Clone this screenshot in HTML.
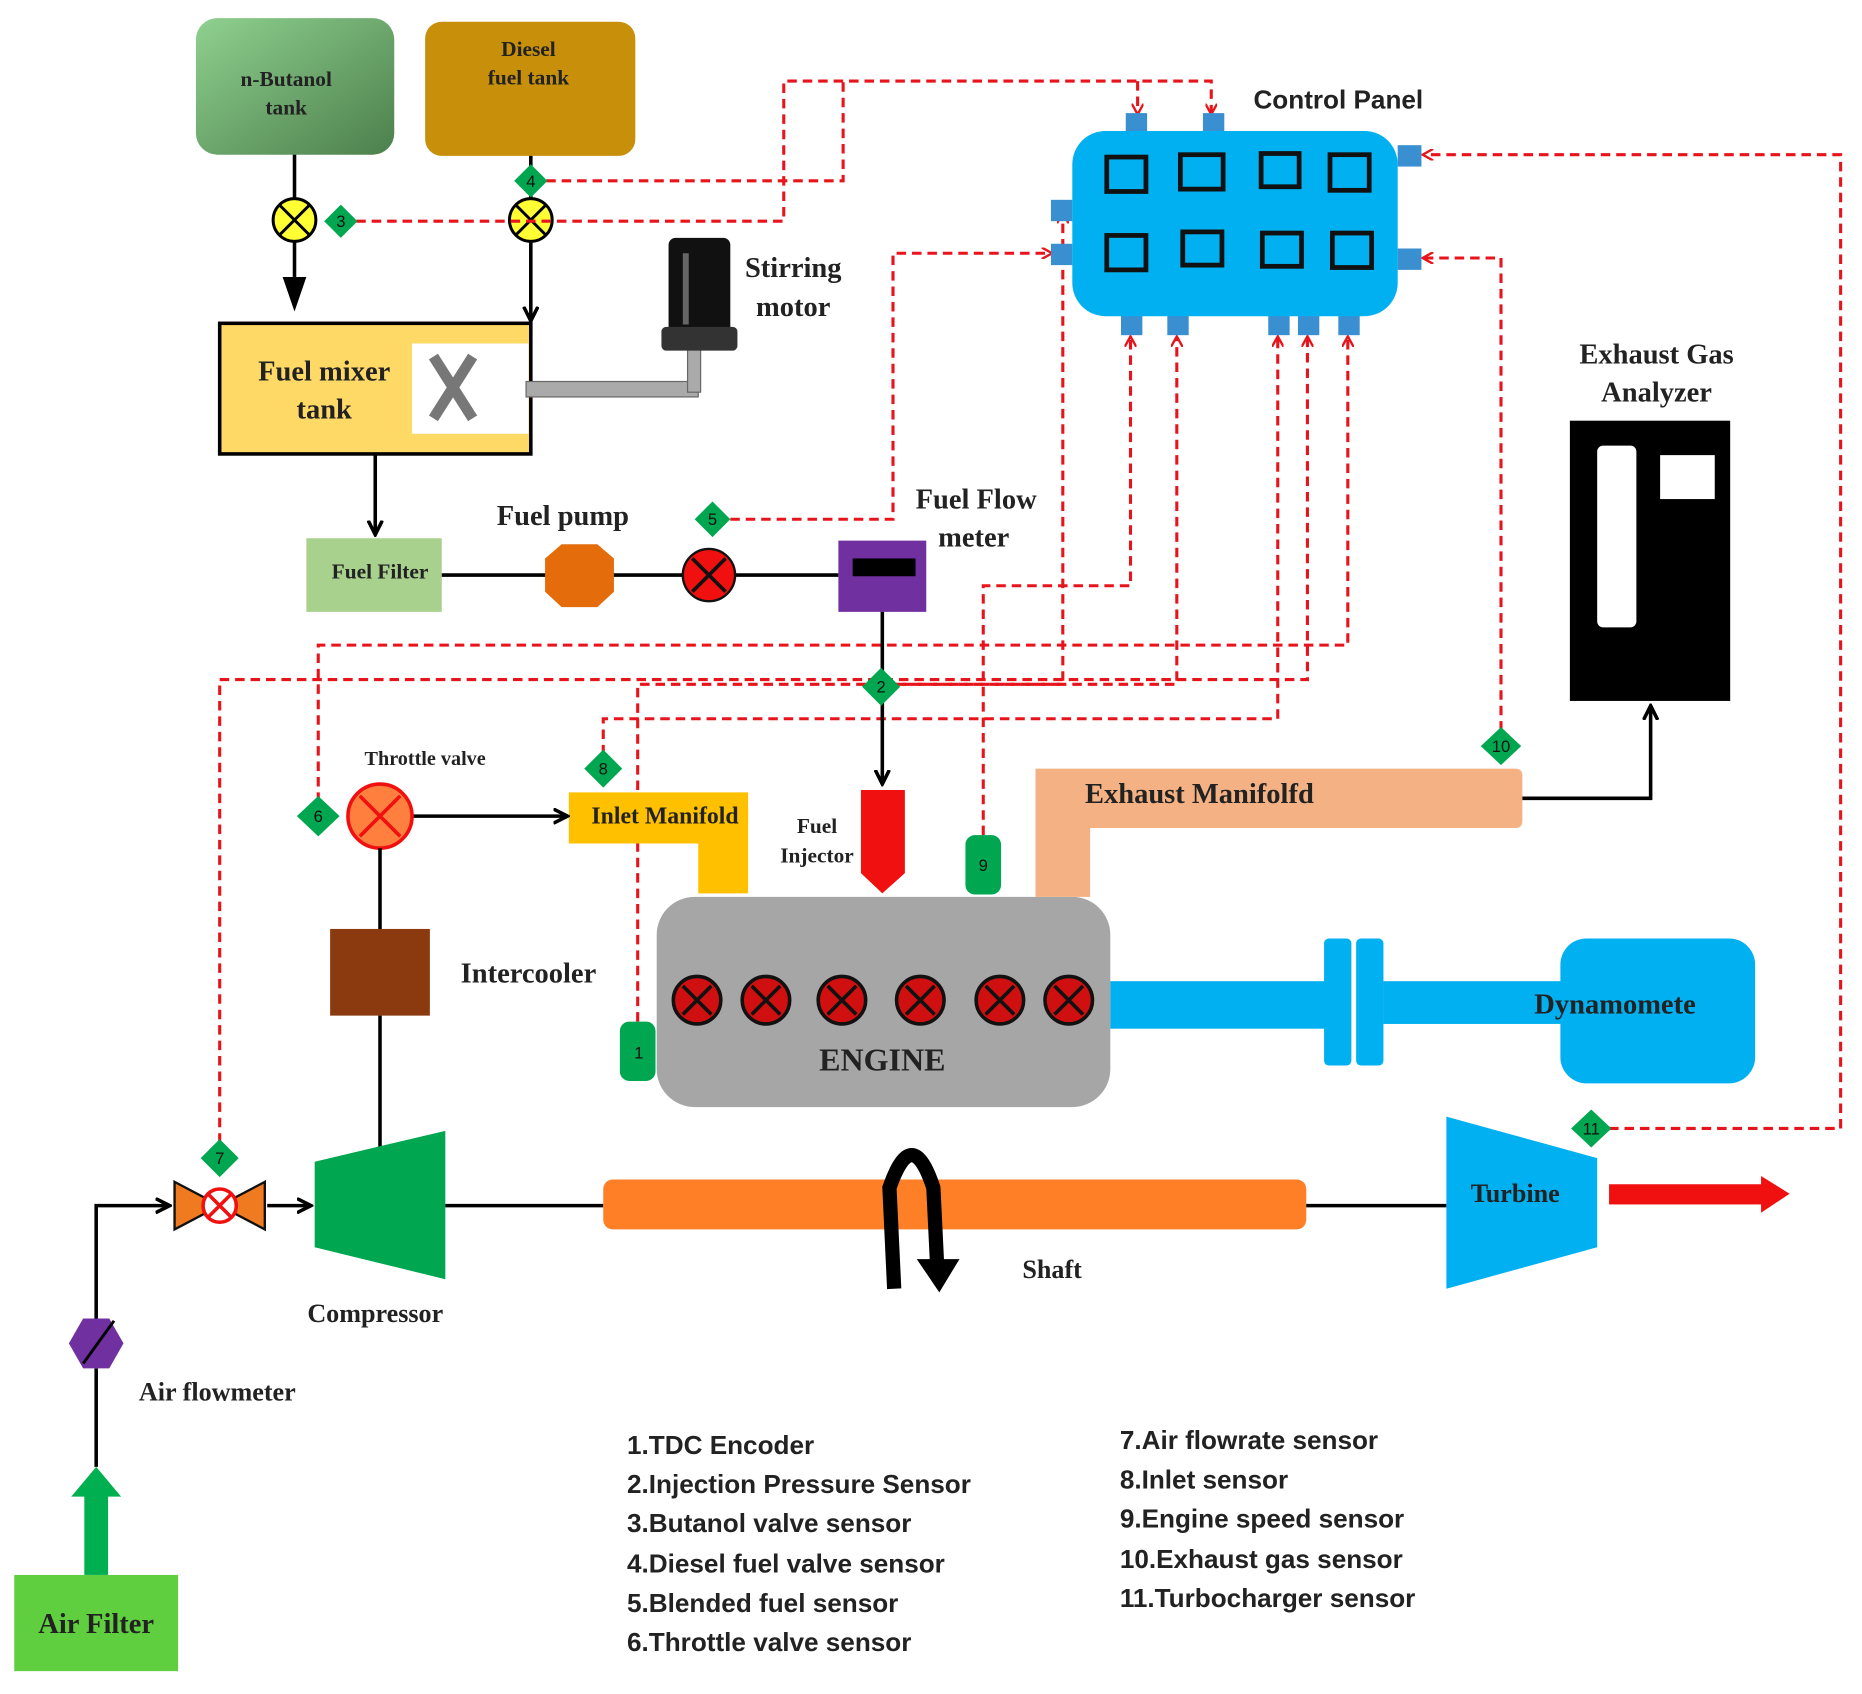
<!DOCTYPE html>
<html><head><meta charset="utf-8"><style>
html,body{margin:0;padding:0;background:#fff}
svg{display:block}
.s{font-family:"Liberation Serif",serif;font-weight:bold;fill:#222}
.l{font-family:"Liberation Sans Narrow","Liberation Sans",sans-serif;font-size:22px;font-weight:bold;fill:#222}
.d{fill:none;stroke:#e8141b;stroke-width:2.6;stroke-dasharray:8,5}
.k{fill:none;stroke:#000;stroke-width:3}
.n{font-family:"Liberation Sans",sans-serif;font-size:14px;fill:#111;text-anchor:middle}
</style></head><body>
<svg width="1862" height="1694" viewBox="0 0 1568 1426" xmlns="http://www.w3.org/2000/svg">
<defs>
<marker id="ra" markerWidth="10" markerHeight="10" refX="8" refY="5" orient="auto" markerUnits="userSpaceOnUse"><path d="M0,0 L9,5 L0,10" fill="none" stroke="#e8141b" stroke-width="2"/></marker>
<marker id="ka" markerWidth="14" markerHeight="14" refX="12" refY="7" orient="auto" markerUnits="userSpaceOnUse"><path d="M0,1 L12,7 L0,13" fill="none" stroke="#000" stroke-width="3"/></marker>
<linearGradient id="gb" x1="0" y1="0" x2="1" y2="1"><stop offset="0" stop-color="#8fd08f"/><stop offset="1" stop-color="#4c7f4c"/></linearGradient>
</defs>

<rect x="165" y="15" width="167" height="115" rx="18" fill="url(#gb)"/>
<text class="s" x="241" y="72" font-size="18" text-anchor="middle">n-Butanol</text>
<text class="s" x="241" y="96" font-size="18" text-anchor="middle">tank</text>
<rect x="358" y="18" width="177" height="113" rx="14" fill="#c8900a"/>
<text class="s" x="445" y="47" font-size="18" text-anchor="middle">Diesel</text>
<text class="s" x="445" y="71" font-size="18" text-anchor="middle">fuel tank</text>

<line class="k" x1="248" y1="130" x2="248" y2="167"/>
<line class="k" x1="447" y1="131" x2="447" y2="167"/>
<line x1="248" y1="204" x2="248" y2="255" stroke="#000" stroke-width="3"/>
<path d="M238,233 L258,233 L248,262 Z" fill="#000"/>
<line class="k" x1="447" y1="204" x2="447" y2="270" marker-end="url(#ka)"/>
<g stroke="#000" stroke-width="2.5">
<circle cx="248" cy="185" r="18" fill="#ffff33"/><path d="M236,173 L260,197 M260,173 L236,197"/>
<circle cx="447" cy="185" r="18" fill="#ffff33"/><path d="M435,173 L459,197 M459,173 L435,197"/>
</g>

<path class="d" d="M300,186 H660 V68 H1020 V95" marker-end="url(#ra)"/>
<path class="d" d="M958,68 V95" marker-end="url(#ra)"/>
<path class="d" d="M460,152 H710 V68"/>
<path class="d" d="M615,437 H752 V213 H885" marker-end="url(#ra)"/>
<path class="d" d="M828,703 V493 H952 V284" marker-end="url(#ra)"/>
<path class="d" d="M537,860 V576 H991 V284" marker-end="url(#ra)"/>
<path class="d" d="M742,576 H895 V180" marker-end="url(#ra)"/>
<path class="d" d="M268,675 V543 H1135 V284" marker-end="url(#ra)"/>
<path class="d" d="M185,962 V572 H1101 V284" marker-end="url(#ra)"/>
<path class="d" d="M508,635 V605 H1076 V284" marker-end="url(#ra)"/>
<path class="d" d="M1264,615 V217 H1199" marker-end="url(#ra)"/>
<path class="d" d="M1355,950 H1550 V130 H1199" marker-end="url(#ra)"/>

<g fill="#3a8fd0">
<rect x="948" y="95" width="18" height="16"/><rect x="1013" y="95" width="18" height="16"/>
<rect x="885" y="168" width="18" height="18"/><rect x="885" y="205" width="18" height="18"/>
<rect x="1177" y="122" width="20" height="18"/><rect x="1177" y="209" width="20" height="18"/>
<rect x="944" y="265" width="18" height="17"/><rect x="983" y="265" width="18" height="17"/><rect x="1068" y="265" width="18" height="17"/><rect x="1093" y="265" width="18" height="17"/><rect x="1127" y="265" width="18" height="17"/>
</g>
<rect x="903" y="110" width="274" height="156" rx="28" fill="#00b0f0"/>
<g fill="none" stroke="#111" stroke-width="4">
<rect x="932" y="132" width="33" height="29"/><rect x="994" y="130" width="36" height="29"/><rect x="1062" y="129" width="32" height="28"/><rect x="1120" y="130" width="33" height="30"/>
<rect x="932" y="198" width="33" height="29"/><rect x="996" y="195" width="33" height="28"/><rect x="1063" y="196" width="33" height="28"/><rect x="1122" y="196" width="33" height="29"/>
</g>
<text x="1127" y="91" font-family="Liberation Sans,sans-serif" font-weight="bold" font-size="22" fill="#222" text-anchor="middle">Control Panel</text>

<rect x="185" y="272" width="262" height="110" fill="#ffd966" stroke="#000" stroke-width="3"/>
<rect x="347" y="289" width="98" height="76" fill="#fff"/>
<path d="M365,300 L398,352 M398,300 L365,352" stroke="#777" stroke-width="9"/>
<rect x="443" y="321" width="145" height="13" fill="#aaa" stroke="#666"/>
<rect x="579" y="290" width="11" height="40" fill="#aaa" stroke="#666"/>
<rect x="563" y="200" width="52" height="82" rx="6" fill="#111"/>
<rect x="557" y="275" width="64" height="20" rx="4" fill="#333"/>
<rect x="575" y="213" width="5" height="60" fill="#666"/>
<text class="s" x="273" y="320" font-size="24" text-anchor="middle">Fuel mixer</text>
<text class="s" x="273" y="352" font-size="24" text-anchor="middle">tank</text>
<text class="s" x="668" y="233" font-size="24" text-anchor="middle">Stirring</text>
<text class="s" x="668" y="266" font-size="24" text-anchor="middle">motor</text>

<line class="k" x1="316" y1="382" x2="316" y2="450" marker-end="url(#ka)"/>
<rect x="258" y="453" width="114" height="62" fill="#a9d18e"/>
<text class="s" x="320" y="487" font-size="18" text-anchor="middle">Fuel Filter</text>
<line class="k" x1="372" y1="484" x2="706" y2="484"/>
<path d="M473,458 H503 L517,470 V498 L503,511 H473 L459,498 V470 Z" fill="#e46c0a"/>
<text class="s" x="474" y="442" font-size="24" text-anchor="middle">Fuel pump</text>
<circle cx="597" cy="484" r="22" fill="#f01010" stroke="#111" stroke-width="2"/>
<path d="M583,470 L611,498 M611,470 L583,498" stroke="#111" stroke-width="3"/>
<rect x="706" y="455" width="74" height="60" fill="#7030a0"/>
<rect x="718" y="470" width="53" height="15" fill="#000"/>
<text class="s" x="822" y="428" font-size="24" text-anchor="middle">Fuel Flow</text>
<text class="s" x="820" y="460" font-size="24" text-anchor="middle">meter</text>
<line class="k" x1="743" y1="515" x2="743" y2="660" marker-end="url(#ka)"/>

<path d="M725,665 H762 V735 L743,752 L725,735 Z" fill="#f01010"/>
<text class="s" x="688" y="701" font-size="18" text-anchor="middle">Fuel</text>
<text class="s" x="688" y="726" font-size="18" text-anchor="middle">Injector</text>
<path d="M479,667 H630 V752 H588 V710 H479 Z" fill="#ffc000"/>
<text class="s" x="560" y="693" font-size="20" text-anchor="middle">Inlet Manifold</text>

<line class="k" x1="348" y1="687" x2="478" y2="687" marker-end="url(#ka)"/>
<circle cx="320" cy="687" r="27" fill="#ff7f3f" stroke="#f01010" stroke-width="3"/>
<path d="M303,670 L337,704 M337,670 L303,704" stroke="#f01010" stroke-width="3"/>
<text class="s" x="358" y="644" font-size="17" text-anchor="middle">Throttle valve</text>
<line class="k" x1="320" y1="714" x2="320" y2="782"/>
<rect x="278" y="782" width="84" height="73" fill="#8b3a0f"/>
<text class="s" x="445" y="827" font-size="24" text-anchor="middle">Intercooler</text>
<line class="k" x1="320" y1="855" x2="320" y2="966"/>

<path d="M265,978 L375,952 V1077 L265,1050 Z" fill="#00a650"/>
<text class="s" x="316" y="1113" font-size="22" text-anchor="middle">Compressor</text>
<line class="k" x1="375" y1="1015" x2="508" y2="1015"/>
<rect x="508" y="993" width="592" height="42" rx="8" fill="#ff7f27"/>
<path d="M753,1085 L749,1000 Q768,945 786,1000 L789,1062" fill="none" stroke="#000" stroke-width="12"/>
<path d="M772,1060 H808 L791,1088 Z" fill="#000"/>
<text class="s" x="886" y="1076" font-size="22" text-anchor="middle">Shaft</text>
<line class="k" x1="1100" y1="1015" x2="1218" y2="1015"/>
<path d="M1218,940 L1345,975 V1050 L1218,1085 Z" fill="#00b0f0"/>
<text class="s" x="1276" y="1012" font-size="22" text-anchor="middle">Turbine</text>
<rect x="1355" y="997" width="130" height="17" fill="#f01010"/>
<path d="M1483,990 L1507,1005 L1483,1021 Z" fill="#f01010"/>

<rect x="553" y="755" width="382" height="177" rx="32" fill="#a6a6a6"/>
<g stroke="#111" stroke-width="3">
<circle cx="587" cy="842" r="20" fill="#d01010"/><circle cx="645" cy="842" r="20" fill="#d01010"/><circle cx="709" cy="842" r="20" fill="#d01010"/><circle cx="775" cy="842" r="20" fill="#d01010"/><circle cx="842" cy="842" r="20" fill="#d01010"/><circle cx="900" cy="842" r="20" fill="#d01010"/>
<path d="M575,830 L599,854 M599,830 L575,854 M633,830 L657,854 M657,830 L633,854 M697,830 L721,854 M721,830 L697,854 M763,830 L787,854 M787,830 L763,854 M830,830 L854,854 M854,830 L830,854 M888,830 L912,854 M912,830 L888,854"/>
</g>
<text class="s" x="743" y="901" font-size="27" text-anchor="middle">ENGINE</text>
<rect x="522" y="860" width="30" height="50" rx="8" fill="#00a650"/><text class="n" x="538" y="891">1</text>
<rect x="813" y="703" width="30" height="50" rx="8" fill="#00a650"/><text class="n" x="828" y="733">9</text>

<path d="M872,647 H1276 Q1282,647 1282,653 V691 Q1282,697 1276,697 H918 V755 H872 Z" fill="#f4b183"/>
<text class="s" x="1010" y="676" font-size="24" text-anchor="middle">Exhaust Manifolfd</text>
<path class="k" d="M1282,672 H1390 V594" marker-end="url(#ka)"/>
<rect x="1322" y="354" width="135" height="236" fill="#000"/>
<rect x="1345" y="375" width="33" height="153" rx="5" fill="#fff"/>
<rect x="1398" y="383" width="46" height="37" fill="#fff"/>
<text class="s" x="1395" y="306" font-size="24" text-anchor="middle">Exhaust Gas</text>
<text class="s" x="1395" y="338" font-size="24" text-anchor="middle">Analyzer</text>

<rect x="935" y="826" width="182" height="40" fill="#00b0f0"/>
<rect x="1115" y="790" width="23" height="107" rx="4" fill="#00b0f0"/>
<rect x="1142" y="790" width="23" height="107" rx="4" fill="#00b0f0"/>
<rect x="1165" y="826" width="155" height="36" fill="#00b0f0"/>
<rect x="1314" y="790" width="164" height="122" rx="22" fill="#00b0f0"/>
<text class="s" x="1360" y="853" font-size="24" text-anchor="middle">Dynamomete</text>

<rect x="12" y="1326" width="138" height="81" fill="#5fcf3f"/>
<text class="s" x="81" y="1375" font-size="24" text-anchor="middle">Air Filter</text>
<rect x="71" y="1258" width="20" height="68" fill="#00b050"/>
<path d="M60,1260 L81,1235 L102,1260 Z" fill="#00b050"/>
<line class="k" x1="81" y1="1235" x2="81" y2="1152"/>
<path class="k" d="M81,1110 V1015 H143" marker-end="url(#ka)"/>
<path d="M70,1110 H92 L104,1131 L92,1152 H70 L58,1131 Z" fill="#7030a0"/>
<line x1="70" y1="1148" x2="96" y2="1112" stroke="#000" stroke-width="2.5"/>
<text class="s" x="183" y="1179" font-size="22" text-anchor="middle">Air flowmeter</text>
<path d="M147,995 L185,1015 L147,1035 Z M223,995 L185,1015 L223,1035 Z" fill="#f07a20" stroke="#111" stroke-width="2"/>
<circle cx="185" cy="1015" r="14" fill="#fff" stroke="#f01010" stroke-width="3"/>
<path d="M175,1005 L195,1025 M195,1005 L175,1025" stroke="#f01010" stroke-width="3"/>
<line class="k" x1="225" y1="1015" x2="262" y2="1015" marker-end="url(#ka)"/>

<g fill="#00a650">
<path d="M287,172 L301,186 L287,200 L273,186 Z"/>
<path d="M447,138 L461,152 L447,166 L433,152 Z"/>
<path d="M600,422 L615,437 L600,452 L585,437 Z"/>
<path d="M742,562 L758,578 L742,594 L726,578 Z"/>
<path d="M508,631 L524,647 L508,663 L492,647 Z"/>
<path d="M268,670 L286,687 L268,704 L250,687 Z"/>
<path d="M185,959 L201,975 L185,991 L169,975 Z"/>
<path d="M1264,612 L1281,628 L1264,644 L1247,628 Z"/>
<path d="M1340,934 L1357,950 L1340,966 L1323,950 Z"/>
</g>
<text class="n" x="287" y="191">3</text><text class="n" x="447" y="157">4</text>
<text class="n" x="600" y="442">5</text><text class="n" x="742" y="583">2</text>
<text class="n" x="508" y="652">8</text><text class="n" x="268" y="692">6</text>
<text class="n" x="185" y="980">7</text><text class="n" x="1264" y="633">10</text>
<text class="n" x="1340" y="955">11</text>

<text class="l" x="528" y="1224">1.TDC Encoder</text>
<text class="l" x="528" y="1257">2.Injection  Pressure Sensor</text>
<text class="l" x="528" y="1290">3.Butanol valve sensor</text>
<text class="l" x="528" y="1324">4.Diesel fuel valve sensor</text>
<text class="l" x="528" y="1357">5.Blended fuel sensor</text>
<text class="l" x="528" y="1390">6.Throttle valve sensor</text>
<text class="l" x="943" y="1220">7.Air flowrate sensor</text>
<text class="l" x="943" y="1253">8.Inlet sensor</text>
<text class="l" x="943" y="1286">9.Engine speed sensor</text>
<text class="l" x="943" y="1320">10.Exhaust gas sensor</text>
<text class="l" x="943" y="1353">11.Turbocharger sensor</text>
</svg>
</body></html>
